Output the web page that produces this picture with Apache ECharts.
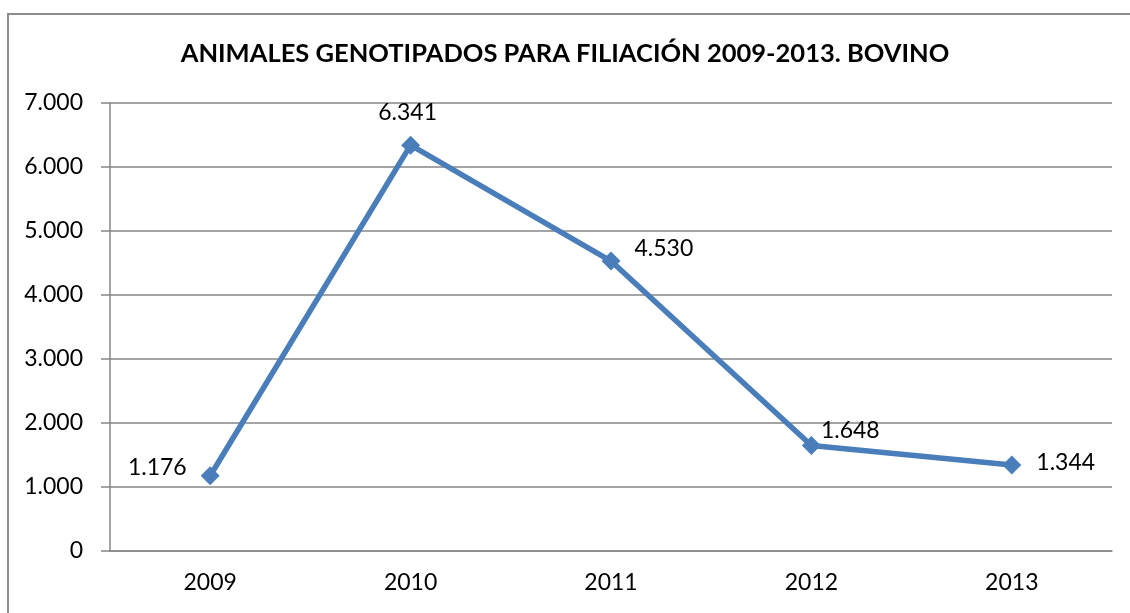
<!DOCTYPE html>
<html lang="es">
<head>
    <meta charset="UTF-8">
    <title>Animales genotipados</title>
    <script src="https://cdn.jsdelivr.net/npm/echarts@6/dist/echarts.min.js"></script>
    <style>
        html, body { margin: 0; padding: 0; background: #fff; overflow: hidden; }
        #chart { width: 1130px; height: 613px; }
    </style>
</head>
<body>
    <div id="chart"></div>
    <script type="text/javascript">
        // datos
        var years = ['2009', '2010', '2011', '2012', '2013'];
        var animals = [1176, 6341, 4530, 1648, 1344];
        var yTicks = [0, 1000, 2000, 3000, 4000, 5000, 6000, 7000];

        function fmt(v) {
            return String(v).replace(/\B(?=(\d{3})+(?!\d))/g, '.');
        }

        var labelCfg = [
            { position: 'left', distance: 14, offset: [0, -8] },
            { position: 'top', distance: 12, offset: [-3, 0] },
            { position: 'right', distance: 14, offset: [0, -13] },
            { position: 'right', distance: 0, offset: [0, -15] },
            { position: 'right', distance: 15, offset: [0, -2] }
        ];

        var myChart = echarts.init(document.getElementById('chart'));
        var option = {
            animation: false,
            textStyle: { fontFamily: 'Lato' },
            // marco del grafico (solo lados izquierdo y superior visibles)
            graphic: [{
                type: 'polyline',
                shape: { points: [[8, 640], [8, 14], [1160, 14]] },
                style: { stroke: '#8c8c8c', lineWidth: 2, fill: null },
                silent: true
            }],
            title: {
                text: 'ANIMALES GENOTIPADOS PARA FILIACIÓN 2009-2013. BOVINO',
                left: 'center',
                top: 36,
                textStyle: { fontFamily: 'Lato', fontWeight: 'bold', fontSize: 25.5, color: '#000' }
            },
            grid: { left: 110, right: 18, top: 103, bottom: 62 },
            xAxis: {
                type: 'category',
                data: years,
                boundaryGap: true,
                axisLine: { lineStyle: { color: '#868686', width: 1.5 } },
                axisTick: { show: false },
                axisLabel: { color: '#000', fontSize: 23, margin: 20 }
            },
            yAxis: {
                type: 'value',
                min: yTicks[0],
                max: yTicks[yTicks.length - 1],
                interval: 1000,
                axisLine: { show: true, lineStyle: { color: '#868686', width: 1.5 } },
                axisTick: { show: true, length: 9, lineStyle: { color: '#868686', width: 1.5 } },
                splitLine: { lineStyle: { color: '#868686', width: 1.5 } },
                axisLabel: { color: '#000', fontSize: 23, margin: 27, formatter: fmt }
            },
            series: [{
                type: 'line',
                data: animals.map(function (v, i) {
                    return { value: v, label: labelCfg[i] };
                }),
                symbol: 'diamond',
                symbolSize: 19,
                lineStyle: { color: '#4a7ebb', width: 5.5 },
                itemStyle: { color: '#4a7ebb' },
                label: {
                    show: true,
                    color: '#000',
                    fontSize: 23,
                    formatter: function (p) { return fmt(p.value); }
                }
            }]
        };
        myChart.setOption(option);
    </script>
</body>
</html>
